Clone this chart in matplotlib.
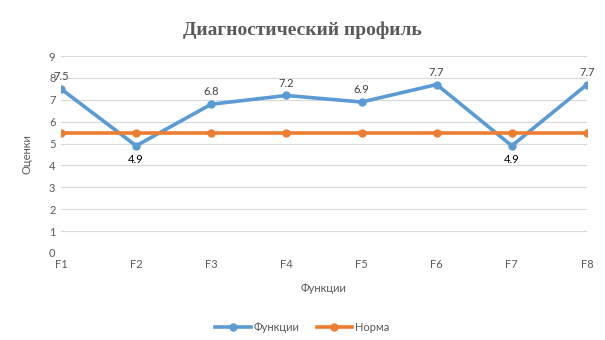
import matplotlib
matplotlib.use("Agg")
import matplotlib.pyplot as plt

categories = ["F1", "F2", "F3", "F4", "F5", "F6", "F7", "F8"]
funcs = [7.5, 4.9, 6.8, 7.2, 6.9, 7.7, 4.9, 7.7]
norm = [5.5, 5.5, 5.5, 5.5, 5.5, 5.5, 5.5, 5.5]

BLUE = "#5b9bd5"
ORANGE = "#ed7d31"
GRAY = "#595959"

plt.rcParams["font.family"] = ["Lato", "DejaVu Sans"]

fig = plt.figure(figsize=(6.05, 3.4), dpi=100)
ax = fig.add_axes([0.1008, 0.256, 0.8694, 0.579])

x = list(range(len(categories)))
ax.plot(x, funcs, color=BLUE, lw=2.6, marker="o", ms=5, label="Функции", zorder=3)
ax.plot(x, norm, color=ORANGE, lw=2.6, marker="o", ms=5, label="Норма", zorder=4)

# data labels: above, except the dips
for i, v in enumerate(funcs):
    if v < 5.5:
        ax.annotate(f"{v:g}", (i, v), xytext=(0, -6), textcoords="offset points",
                    ha="center", va="top", fontsize=8, color="#000000")
    else:
        ax.annotate(f"{v:g}", (i, v), xytext=(0, 5), textcoords="offset points",
                    ha="center", va="bottom", fontsize=8, color="#404040")

ax.set_xlim(0, len(categories) - 1)
ax.set_ylim(0, 9)
ax.set_yticks(range(0, 10))
ax.set_xticks(x)
ax.set_xticklabels(categories)
ax.grid(axis="y", color="#d9d9d9", lw=0.8)
ax.set_axisbelow(True)
for s in ax.spines.values():
    s.set_visible(False)
ax.tick_params(length=0, colors=GRAY, labelsize=8)
ax.tick_params(axis="x", pad=4)
ax.tick_params(axis="y", pad=4)

ax.set_xlabel("Функции", fontsize=8, color=GRAY, labelpad=10)
ax.set_ylabel("Оценки", fontsize=8, color=GRAY, labelpad=12)

fig.text(0.5, 0.91, "Диагностический профиль", ha="center", va="center",
         fontsize=14, fontweight="bold", color=GRAY, family="Liberation Serif")

fig.legend(loc="center", bbox_to_anchor=(0.5, 0.038), ncol=2, frameon=False,
           fontsize=8, labelcolor=GRAY, handlelength=3.2, columnspacing=1.5,
           handletextpad=0.3)

fig.savefig("out.png", dpi=100)
